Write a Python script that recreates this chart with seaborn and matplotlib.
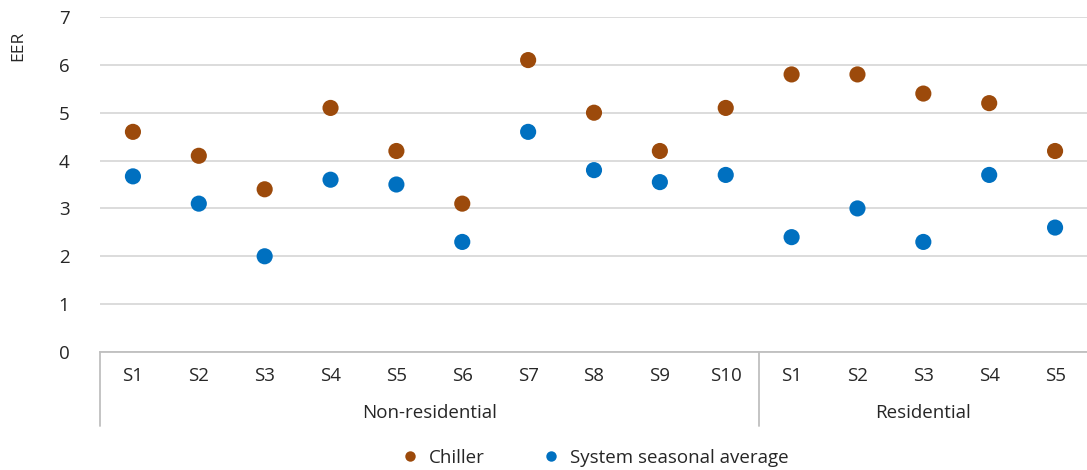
import matplotlib
matplotlib.use("Agg")
import matplotlib.pyplot as plt
import matplotlib.transforms as mtransforms
from matplotlib.lines import Line2D
import seaborn as sns
import pandas as pd

groups = ["Non-residential"] * 10 + ["Residential"] * 5
sites = ["S1", "S2", "S3", "S4", "S5", "S6", "S7", "S8", "S9", "S10",
         "S1", "S2", "S3", "S4", "S5"]
chiller = [4.6, 4.1, 3.4, 5.1, 4.2, 3.1, 6.1, 5.0, 4.2, 5.1,
           5.8, 5.8, 5.4, 5.2, 4.2]
system_avg = [3.67, 3.1, 2.0, 3.6, 3.5, 2.3, 4.6, 3.8, 3.55, 3.7,
              2.4, 3.0, 2.3, 3.7, 2.6]
series_names = ["Chiller", "System seasonal average"]
colors = {"Chiller": "#9C4A0B", "System seasonal average": "#0070C0"}
y_ticks = [0, 1, 2, 3, 4, 5, 6, 7]

keys = [f"{g}|{s}" for g, s in zip(groups, sites)]
df = pd.concat([
    pd.DataFrame({"key": keys, "value": chiller, "series": series_names[0]}),
    pd.DataFrame({"key": keys, "value": system_avg, "series": series_names[1]}),
])

sns.set_theme(style="white")
plt.rcParams["font.family"] = ["Open Sans", "DejaVu Sans"]
FS = 13.5
TXT = "#262626"

fig = plt.figure(figsize=(10.87, 4.70), dpi=100)
ax = fig.add_axes([100 / 1087, 118 / 470, 988 / 1087, 335 / 470])

sns.scatterplot(data=df, x="key", y="value", hue="series", palette=colors,
                s=135, linewidth=0, ax=ax, legend=False, zorder=3)

n = len(keys)
ax.set_xlim(-0.5, n - 0.5)
ax.set_ylim(0, 7)
ax.set_yticks(y_ticks)
ax.set_yticklabels([str(t) for t in y_ticks], fontsize=FS, color=TXT)
ax.set_xticks(range(n))
ax.set_xticklabels(sites, fontsize=FS, color=TXT)
ax.tick_params(axis="y", length=0, pad=22)
ax.tick_params(axis="x", length=0, pad=11)
ax.yaxis.grid(True, color="#D9D9D9", linewidth=1.3)
ax.set_axisbelow(True)
for side in ["top", "right", "left"]:
    ax.spines[side].set_visible(False)
ax.spines["bottom"].set_color("#BFBFBF")
ax.spines["bottom"].set_linewidth(1.3)

ax.set_xlabel("")
ax.set_ylabel("EER", fontsize=FS - 1, color=TXT, rotation=90)
ax.yaxis.set_label_coords(-0.075, 0.915)

# group separators and labels
trans = mtransforms.blended_transform_factory(ax.transData, ax.transAxes)
bounds = [-0.5]
labels_pos = []
start = 0
for i in range(1, n + 1):
    if i == n or groups[i] != groups[i - 1]:
        labels_pos.append(((start + i - 1) / 2, groups[i - 1]))
        bounds.append(i - 0.5)
        start = i
for b in bounds[:-1]:
    ax.plot([b, b], [0, -0.22], transform=trans, color="#BFBFBF",
            linewidth=1.3, clip_on=False)
for xpos, lab in labels_pos:
    ax.text(xpos, -0.183, lab, transform=trans, ha="center", va="center",
            fontsize=FS, color=TXT)

# legend
handles = [Line2D([], [], marker="o", linestyle="", markersize=7.5,
                  markerfacecolor=colors[nm], markeredgewidth=0, label=nm)
           for nm in series_names]
fig.legend(handles=handles, loc="center", bbox_to_anchor=(590 / 1087, 1 - 458 / 470),
           ncol=2, frameon=False, fontsize=FS, handletextpad=0.05,
           columnspacing=2.5, labelcolor=TXT)

fig.savefig("out.png", dpi=100)
